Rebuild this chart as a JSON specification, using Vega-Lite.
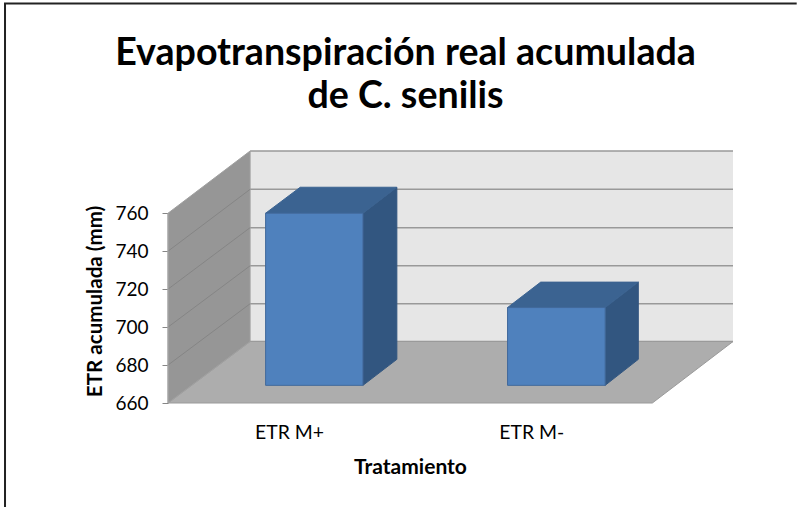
{
"$schema":"https://vega.github.io/schema/vega-lite/v6.json",
"width":565,"height":252,
"autosize":{"type":"none"},
"padding":{"left":168,"top":151,"right":64,"bottom":104},
"background":"white",
"title":{"text":["Evapotranspiración real acumulada","de C. senilis"],"font":"Lato","fontSize":37.6,"fontWeight":"bold","color":"#000000","anchor":"middle","frame":"group","dx":-45,"dy":158,"lineHeight":43,"baseline":"bottom"},
"config":{"view":{"stroke":null}},
"datasets":{
"formas":[
{"forma":"pared_fondo","x":0.339,"y":692.4,"y2":792.8},
{"forma":"pared_fondo","x":2.333,"y":692.4,"y2":792.8}
],
"marco":[
{"orden":1,"x":-0.673,"y":605},
{"orden":2,"x":-0.673,"y":870.5},
{"orden":3,"x":2.596,"y":870.5}
],
"lineas_fondo":[
{"linea":"a","x":0.339,"y":692.4},{"linea":"a","x":2.333,"y":692.4},
{"linea":"b","x":0.339,"y":712.3},{"linea":"b","x":2.333,"y":712.3},
{"linea":"c","x":0.339,"y":732.3},{"linea":"c","x":2.333,"y":732.3},
{"linea":"d","x":0.339,"y":752.4},{"linea":"d","x":2.333,"y":752.4},
{"linea":"e","x":0.339,"y":772.6},{"linea":"e","x":2.333,"y":772.6},
{"linea":"f","x":0.339,"y":792.8},{"linea":"f","x":2.333,"y":792.8}
],
"piso":[
{"x":0,"y":660,"y2":660},
{"x":0.339,"y":692.4,"y2":660},
{"x":2.0,"y":692.4,"y2":660},
{"x":2.333,"y":692.4,"y2":692.4}
],
"pared_lateral":[
{"x":0,"y":660,"y2":760},
{"x":0.339,"y":692.4,"y2":792.8}
],
"lineas_lateral":[
{"linea":"680","x":0,"y":680},{"linea":"680","x":0.339,"y":712.3},
{"linea":"700","x":0,"y":700},{"linea":"700","x":0.339,"y":732.3},
{"linea":"720","x":0,"y":720},{"linea":"720","x":0.339,"y":752.4},
{"linea":"740","x":0,"y":740},{"linea":"740","x":0.339,"y":772.6}
],
"barras":[
{"tratamiento":"ETR M+","x":0.403,"x2":0.805,"base":669.3,"etr":760},
{"tratamiento":"ETR M-","x":1.402,"x2":1.805,"base":669.3,"etr":710.3}
],
"techos":[
{"tratamiento":"ETR M+","x":0.403,"y":760,"y2":760},
{"tratamiento":"ETR M+","x":0.546,"y":773.7,"y2":760},
{"tratamiento":"ETR M+","x":0.805,"y":773.7,"y2":760},
{"tratamiento":"ETR M+","x":0.945,"y":773.7,"y2":773.7},
{"tratamiento":"ETR M-","x":1.402,"y":710.3,"y2":710.3},
{"tratamiento":"ETR M-","x":1.539,"y":723.7,"y2":710.3},
{"tratamiento":"ETR M-","x":1.805,"y":723.7,"y2":710.3},
{"tratamiento":"ETR M-","x":1.942,"y":723.7,"y2":723.7}
],
"lados":[
{"tratamiento":"ETR M+","x":0.805,"y":669.3,"y2":760},
{"tratamiento":"ETR M+","x":0.945,"y":683,"y2":773.7},
{"tratamiento":"ETR M-","x":1.805,"y":669.3,"y2":710.3},
{"tratamiento":"ETR M-","x":1.942,"y":683,"y2":723.7}
],
"eje":[{"x":0,"y":660,"y2":760}]
},
"layer":[
{"data":{"name":"formas"},"mark":{"type":"area","color":"#e6e6e6","clip":false},
 "encoding":{
 "x":{"field":"x","type":"quantitative","scale":{"domain":[0,2.333],"nice":false,"zero":false},
  "axis":{"values":[0.5,1.5],"labelExpr":"datum.value == 0.5 ? 'ETR M+' : 'ETR M-'","title":"Tratamiento","grid":false,"domain":false,"ticks":false,"labelFont":"Lato","labelFontSize":19.4,"labelColor":"#000000","labelPadding":20,"titleFont":"Lato","titleFontSize":21,"titleFontWeight":"bold","titleColor":"#000000","titleX":242,"titleY":64,"titleBaseline":"middle"}},
 "y":{"field":"y","type":"quantitative","scale":{"domain":[660,792.8],"nice":false,"zero":false},
  "axis":{"values":[660,680,700,720,740,760],"title":"ETR acumulada (mm)","grid":false,"domain":false,"tickColor":"#868686","tickSize":6,"labelFont":"Lato","labelFontSize":19,"labelColor":"#000000","labelPadding":14,"titleFont":"Lato","titleFontSize":20.6,"titleFontWeight":"bold","titleColor":"#000000","titleX":-73,"titleY":150,"titleBaseline":"middle"}},
 "y2":{"field":"y2"}}},
{"data":{"name":"marco"},"mark":{"type":"line","color":"#222222","strokeWidth":2,"clip":false},
 "encoding":{"x":{"field":"x","type":"quantitative"},"y":{"field":"y","type":"quantitative"},"order":{"field":"orden"}}},
{"data":{"name":"lineas_fondo"},"mark":{"type":"line","color":"#999999","strokeWidth":1.5},
 "encoding":{"x":{"field":"x","type":"quantitative"},"y":{"field":"y","type":"quantitative"},"detail":{"field":"linea"}}},
{"data":{"name":"piso"},"mark":{"type":"area","color":"#adadad","stroke":"#9a9a9a","strokeWidth":1},
 "encoding":{"x":{"field":"x","type":"quantitative"},"y":{"field":"y","type":"quantitative"},"y2":{"field":"y2"}}},
{"data":{"name":"pared_lateral"},"mark":{"type":"area","color":"#969696","stroke":"#a0a0a0","strokeWidth":1},
 "encoding":{"x":{"field":"x","type":"quantitative"},"y":{"field":"y","type":"quantitative"},"y2":{"field":"y2"}}},
{"data":{"name":"lineas_lateral"},"mark":{"type":"line","color":"#858585","strokeWidth":1},
 "encoding":{"x":{"field":"x","type":"quantitative"},"y":{"field":"y","type":"quantitative"},"detail":{"field":"linea"}}},
{"data":{"name":"eje"},"mark":{"type":"rule","color":"#a6a6a6","strokeWidth":1},
 "encoding":{"x":{"field":"x","type":"quantitative"},"y":{"field":"y","type":"quantitative"},"y2":{"field":"y2"}}},
{"data":{"name":"lados"},"mark":{"type":"area","color":"#325680","stroke":"#325680","strokeWidth":1},
 "encoding":{"x":{"field":"x","type":"quantitative"},"y":{"field":"y","type":"quantitative"},"y2":{"field":"y2"},"detail":{"field":"tratamiento"}}},
{"data":{"name":"techos"},"mark":{"type":"area","color":"#3b6391","stroke":"#3b6391","strokeWidth":1},
 "encoding":{"x":{"field":"x","type":"quantitative"},"y":{"field":"y","type":"quantitative"},"y2":{"field":"y2"},"detail":{"field":"tratamiento"}}},
{"data":{"name":"barras"},"mark":{"type":"rect","color":"#4f81bd","stroke":"#42699b","strokeWidth":1},
 "encoding":{"x":{"field":"x","type":"quantitative"},"x2":{"field":"x2"},"y":{"field":"etr","type":"quantitative"},"y2":{"field":"base"}}}
]
}
